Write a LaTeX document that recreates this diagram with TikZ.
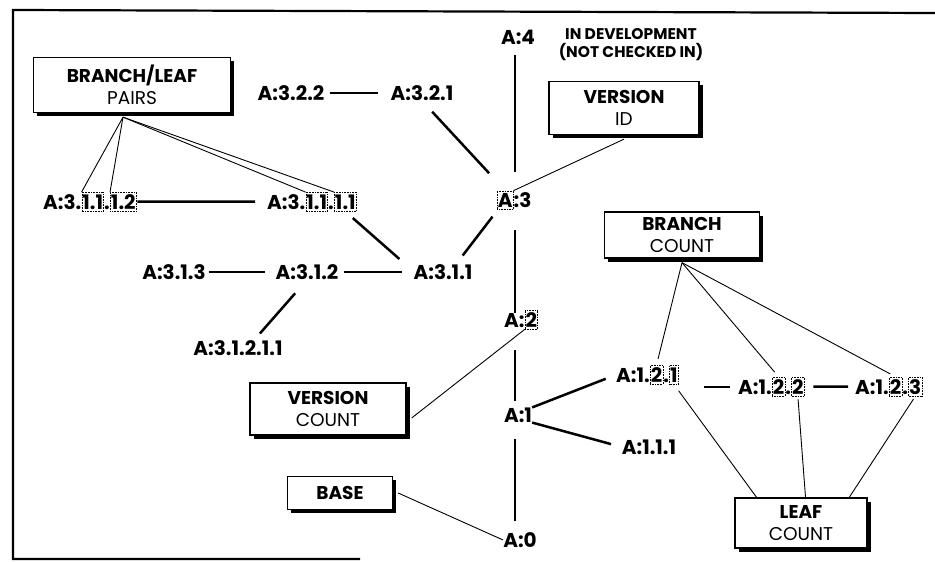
\documentclass[tikz,border=0pt]{standalone}
\usepackage{fontspec}
\setmainfont{Poppins}
\usetikzlibrary{positioning,shadows}

\tikzset{
  lbl/.style={font=\fontsize{20}{22}\selectfont\bfseries,inner sep=0pt},
  hlbox/.style={lbl,draw,densely dotted,line width=0.6pt,inner xsep=0.6pt,inner ysep=2pt},
  tagbox/.style={draw,line width=1.3pt,fill=white,align=center,
    font=\fontsize{18.5}{22}\selectfont,
    drop shadow={shadow xshift=3.5pt,shadow yshift=-3.5pt,fill=black,opacity=1}},
  tree/.style={line width=2.5pt},
  note/.style={line width=0.9pt},
  frame/.style={line width=2.2pt}
}

\begin{document}
\begin{tikzpicture}[x=1pt,y=-1pt]
  \useasboundingbox (0,0) rectangle (935,562);
  \draw[frame] (935,13) -- (13,10) -- (13,559) -- (360,559);

  % --- main line of versions ---
  \coordinate (trunk) at (515,0);
  \node[lbl] (a4) at (518,37) {A:4};
  \node[lbl,font=\fontsize{15.5}{18}\selectfont\bfseries,align=center] (devnote) at (631,45)
    {IN DEVELOPMENT\\(NOT CHECKED IN)};
  \node[hlbox,anchor=base west] (a3h) at (497,207) {A};
  \node[lbl,base right=0pt of a3h] (a3) {:3};
  \node[lbl,anchor=base west] (a2) at (504,327) {A:};
  \node[hlbox,base right=0pt of a2] (a2h) {2};
  \node[lbl] (a1) at (518,415) {A:1};
  \node[lbl] (a0) at (520,540) {A:0};

  % --- branches off version 3 ---
  \node[lbl] (a322) at (291,93) {A:3.2.2};
  \node[lbl] (a321) at (422,93) {A:3.2.1};
  \node[lbl,anchor=base west] (a3112) at (43,209) {A:3.};
  \node[hlbox,base right=0pt of a3112] (a3112b) {1.1};
  \node[lbl,base right=0pt of a3112b] (a3112d) {.};
  \node[hlbox,base right=0pt of a3112d] (a3112l) {1.2};
  \node[lbl,anchor=base west] (a3111) at (267,209) {A:3.};
  \node[hlbox,base right=0pt of a3111] (a3111b) {1.1};
  \node[lbl,base right=0pt of a3111b] (a3111d) {.};
  \node[hlbox,base right=0pt of a3111d] (a3111l) {1.1};
  \node[lbl] (a313) at (174,272) {A:3.1.3};
  \node[lbl] (a312) at (307,272) {A:3.1.2};
  \node[lbl] (a311) at (443,272) {A:3.1.1};
  \node[lbl] (a31211) at (238,348) {A:3.1.2.1.1};

  % --- branches off version 1 ---
  \node[lbl,anchor=base west] (a121) at (616,382) {A:1.};
  \node[hlbox,base right=0pt of a121] (a121b) {2};
  \node[lbl,base right=0pt of a121b] (a121d) {.};
  \node[hlbox,base right=0pt of a121d] (a121l) {1};
  \node[lbl] (a111) at (649,447) {A:1.1.1};
  \node[lbl,anchor=base west] (a122) at (738,394) {A:1.};
  \node[hlbox,base right=0pt of a122] (a122b) {2};
  \node[lbl,base right=0pt of a122b] (a122d) {.};
  \node[hlbox,base right=0pt of a122d] (a122l) {2};
  \node[lbl,anchor=base west] (a123) at (855,394) {A:1.};
  \node[hlbox,base right=0pt of a123] (a123b) {2};
  \node[lbl,base right=0pt of a123b] (a123d) {.};
  \node[hlbox,base right=0pt of a123d] (a123l) {3};

  % --- callout boxes ---
  \node[tagbox,minimum width=197pt,minimum height=55pt] (pairs) at (132,85)
    {{\bfseries BRANCH/LEAF}\\PAIRS};
  \node[tagbox,minimum width=150pt,minimum height=53pt] (verid) at (624,108)
    {{\bfseries VERSION}\\ID};
  \node[tagbox,minimum width=155pt,minimum height=46pt] (brcnt) at (682,235)
    {{\bfseries BRANCH}\\COUNT};
  \node[tagbox,minimum width=156pt,minimum height=52pt] (vercnt) at (328,409)
    {{\bfseries VERSION}\\COUNT};
  \node[tagbox,minimum width=105pt,minimum height=33pt] (base) at (340,493)
    {\bfseries BASE};
  \node[tagbox,minimum width=132pt,minimum height=50pt] (leafcnt) at (801,523)
    {{\bfseries LEAF}\\COUNT};

  % trunk
  \draw[tree,shorten <=11pt,shorten >=20pt] (trunk |- a4.south) -- (trunk |- a3.north);
  \draw[tree,shorten <=23pt] (trunk |- a3.south) -- (trunk |- a2.north);
  \draw[tree,shorten <=23pt,shorten >=6pt] (trunk |- a2.south) -- (trunk |- a1.north);
  \draw[tree,shorten <=16pt,shorten >=11pt] (trunk |- a1.south) -- (trunk |- a0.north);
  % version 1 branches
  \draw[tree,shorten >=11pt] (a1.north east) -- (a121.west);
  \draw[tree,shorten >=11pt] (a1.south east) -- (a111.west);
  \draw[tree,shorten <=25pt,shorten >=8pt] (a121l.east |- a122.west) -- (a122.west);
  \draw[tree,shorten <=9pt,shorten >=7pt] (a122l) -- (a123);
  % version 3 branches
  \draw[tree,shorten <=5pt,shorten >=12pt] (a322) -- (a321);
  \draw[tree,shorten <=15pt,shorten >=36pt] (a321.south) -- (a3.west);
  \draw[tree,shorten <=21pt,shorten >=11pt] (a3h.center) -- ([xshift=13pt]a311.north);
  \draw[tree,shorten <=1pt,shorten >=12pt] (a3112l) -- (a3111);
  \draw[tree,shorten <=10pt,shorten >=8pt] (a3111l.south) -- ([xshift=-8pt]a311.north west);
  \draw[tree,shorten <=3pt,shorten >=10pt] (a313) -- (a312);
  \draw[tree,shorten <=5pt,shorten >=11pt] (a312) -- (a311);
  \draw[tree,shorten <=18pt,shorten >=9pt] (a312.south) -- ([xshift=16pt]a31211.north);

  % callout lines
  \coordinate (pairsfoot) at ([xshift=-9pt,yshift=-4pt]pairs.south);
  \draw[note] (pairsfoot) -- (a3112b.north west);
  \draw[note] (pairsfoot) -- (a3112l.north west);
  \draw[note] (pairsfoot) -- (a3111b.north west);
  \draw[note] (pairsfoot) -- (a3111l.north west);
  \draw[note] ([yshift=-4pt]verid.south) -- (a3h.north east);
  \draw[note] ([xshift=5pt,yshift=-9pt]vercnt.east) -- (a2h.south west);
  \draw[note] ([xshift=5pt]base.east) -- (a0.west);
  \draw[note,shorten >=6pt] ([yshift=-4pt]brcnt.south) -- (a121b.north);
  \draw[note,shorten >=6pt] ([yshift=-4pt]brcnt.south) -- (a122b.north);
  \draw[note,shorten >=6pt] ([yshift=-4pt]brcnt.south) -- (a123b.north);
  \draw[note,shorten <=8pt] (a121l.south) -- (leafcnt.150);
  \draw[note,shorten <=3pt] (a122l.south) -- (leafcnt.80);
  \draw[note,shorten <=3pt] (a123l.south) -- (leafcnt.28);
\end{tikzpicture}
\end{document}
